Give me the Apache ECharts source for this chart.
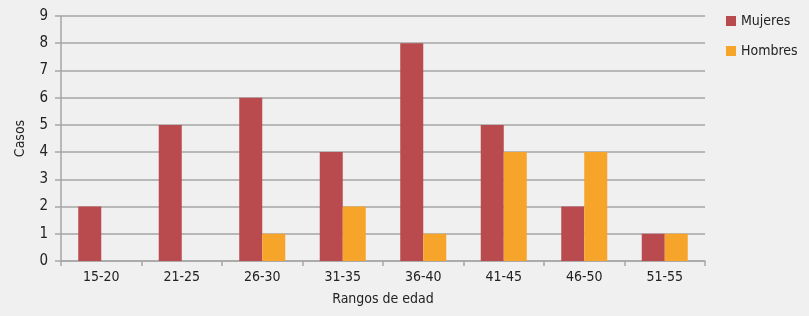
<!DOCTYPE html>
<html lang="es">
<head>
    <meta charset="UTF-8">
    <title>Casos por rango de edad</title>
    <style>
        html, body { margin: 0; padding: 0; background: #f0f0f0; }
    </style>
</head>
<body>
    <div id="chart" style="width: 809px; height: 316px;"></div>
    <script src="https://cdn.jsdelivr.net/npm/echarts@6/dist/echarts.min.js"></script>
    <script>
        // datos
        var rangos = ['15-20', '21-25', '26-30', '31-35', '36-40', '41-45', '46-50', '51-55']
        var mujeres = [2, 5, 6, 4, 8, 5, 2, 1]
        var hombres = [0, 0, 1, 2, 1, 4, 4, 1]

        var fuente = '"Liberation Sans Narrow", "DejaVu Sans Condensed", sans-serif'
        var gris = '#a6a6a6'

        var chart = echarts.init(document.getElementById('chart'))

        var option = {
            backgroundColor: '#f0f0f0',
            textStyle: { fontFamily: fuente },
            legend: {
                orient: 'vertical',
                left: 726,
                top: 14,
                padding: 0,
                itemWidth: 10,
                itemHeight: 10,
                itemGap: 16,
                icon: 'rect',
                textStyle: { fontFamily: fuente, fontSize: 14, color: '#222' },
                data: ['Mujeres', 'Hombres']
            },
            grid: { left: 61, right: 104, top: 16, bottom: 55 },
            xAxis: {
                type: 'category',
                data: rangos,
                name: 'Rangos de edad',
                nameLocation: 'middle',
                nameGap: 31,
                nameTextStyle: { fontFamily: fuente, fontSize: 14, color: '#222' },
                axisLine: { lineStyle: { color: gris, width: 1.5 } },
                axisTick: { show: true, length: 5, lineStyle: { color: gris, width: 1.5 } },
                axisLabel: { fontFamily: fuente, fontSize: 14, color: '#222', margin: 9 }
            },
            yAxis: {
                type: 'value',
                min: 0,
                max: 9,
                interval: 1,
                name: 'Casos',
                nameLocation: 'middle',
                nameRotate: 90,
                nameGap: 34,
                nameTextStyle: { fontFamily: fuente, fontSize: 14, color: '#222' },
                axisLine: { show: true, lineStyle: { color: gris, width: 1.5 } },
                axisTick: { show: true, length: 6, lineStyle: { color: gris, width: 1.5 } },
                axisLabel: { fontFamily: fuente, fontSize: 15, color: '#222', margin: 13 },
                splitLine: { lineStyle: { color: gris, width: 1.5 } }
            },
            series: [
                {
                    name: 'Mujeres',
                    type: 'bar',
                    data: mujeres,
                    barWidth: 23,
                    barGap: '0%',
                    itemStyle: { color: '#b94a4e' }
                },
                {
                    name: 'Hombres',
                    type: 'bar',
                    data: hombres,
                    barWidth: 23,
                    barGap: '0%',
                    itemStyle: { color: '#f6a42a' }
                }
            ]
        }

        chart.setOption(option)
    </script>
</body>
</html>
